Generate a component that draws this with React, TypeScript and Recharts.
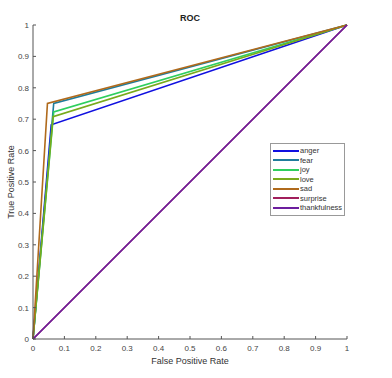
import React from "react";
import { LineChart, Line, XAxis, YAxis } from "recharts";

const TICKS = [0, 0.1, 0.2, 0.3, 0.4, 0.5, 0.6, 0.7, 0.8, 0.9, 1];

const CLASSES = ["anger", "fear", "joy", "love", "sad", "surprise", "thankfulness"];
const COLORS = ["#1010e0", "#1f7c9c", "#2ecf5e", "#78aa1c", "#b06a1c", "#a11f5c", "#6c1e9e"];
// false positive rate / true positive rate at each class's threshold point
const FPR = [
  [0, 0.058, 1],
  [0, 0.066, 1],
  [0, 0.066, 1],
  [0, 0.064, 1],
  [0, 0.046, 1],
  [0, 1],
  [0, 1],
];
const TPR = [
  [0, 0.682, 1],
  [0, 0.75, 1],
  [0, 0.723, 1],
  [0, 0.708, 1],
  [0, 0.75, 1],
  [0, 1],
  [0, 1],
];

const series = CLASSES.map((name, i) => ({
  name,
  color: COLORS[i],
  data: FPR[i].map((f, j) => ({ fpr: f, tpr: TPR[i][j] })),
}));

const font = "'Liberation Sans', Arial, sans-serif";
const axisColor = "#555";

const fmt = (v: number) => String(Math.round(v * 10) / 10);

const YTick = (props: any) => {
  const { x, y, payload } = props;
  return (
    <g>
      <line x1={x + 4} x2={x + 7} y1={y} y2={y} stroke={axisColor} />
      <text x={x} y={y} dy={3} textAnchor="end" fontSize={8} fill="#444" fontFamily={font}>
        {fmt(payload.value)}
      </text>
    </g>
  );
};

const XTick = (props: any) => {
  const { x, y, payload } = props;
  return (
    <g>
      <line x1={x} x2={x} y1={y - 4} y2={y - 7} stroke={axisColor} />
      <text x={x} y={y} dy={8} textAnchor="middle" fontSize={8} fill="#444" fontFamily={font}>
        {fmt(payload.value)}
      </text>
    </g>
  );
};

const LegendBox = () => (
  <div
    style={{
      position: "absolute",
      left: 270,
      top: 143,
      border: "1px solid #999",
      background: "#fff",
      padding: "2px 2px 2px 2px",
      fontFamily: font,
      fontSize: 7.5,
      color: "#333",
      lineHeight: "9.5px",
    }}
  >
    {series.map((s) => (
      <div key={s.name} style={{ display: "flex", alignItems: "center" }}>
        <span style={{ display: "inline-block", width: 26, height: 2, background: s.color, marginRight: 1 }} />
        <span>{s.name}</span>
      </div>
    ))}
  </div>
);

export default function App() {
  return (
    <div style={{ position: "absolute", left: 0, top: 0, width: 392, height: 378, background: "#fff" }}>
      <LineChart width={392} height={378} margin={{ top: 25, right: 45, bottom: 0, left: 0 }}>
        <text x={190} y={21} textAnchor="middle" fontSize={9} fontWeight="bold" fill="#222" fontFamily={font}>
          ROC
        </text>
        <XAxis
          type="number"
          dataKey="fpr"
          domain={[0, 1]}
          ticks={TICKS}
          height={39}
          tickSize={4}
          tickMargin={0}
          tickLine={false}
          stroke={axisColor}
          tick={<XTick />}
          label={{ value: "False Positive Rate", position: "insideBottom", offset: 14, fontSize: 9, fill: "#333", fontFamily: font }}
          allowDuplicatedCategory={false}
        />
        <YAxis
          type="number"
          dataKey="tpr"
          domain={[0, 1]}
          ticks={TICKS}
          width={33}
          tickSize={4}
          tickMargin={0}
          tickLine={false}
          stroke={axisColor}
          tick={<YTick />}
          label={{ value: "True Positive Rate", angle: -90, position: "insideLeft", offset: 11, fontSize: 9, fill: "#333", fontFamily: font, style: { textAnchor: "middle" } }}
        />
        {series.map((s) => (
          <Line
            key={s.name}
            data={s.data}
            dataKey="tpr"
            name={s.name}
            type="linear"
            stroke={s.color}
            strokeWidth={1.6}
            dot={false}
            isAnimationActive={false}
          />
        ))}
      </LineChart>
      <LegendBox />
    </div>
  );
}
